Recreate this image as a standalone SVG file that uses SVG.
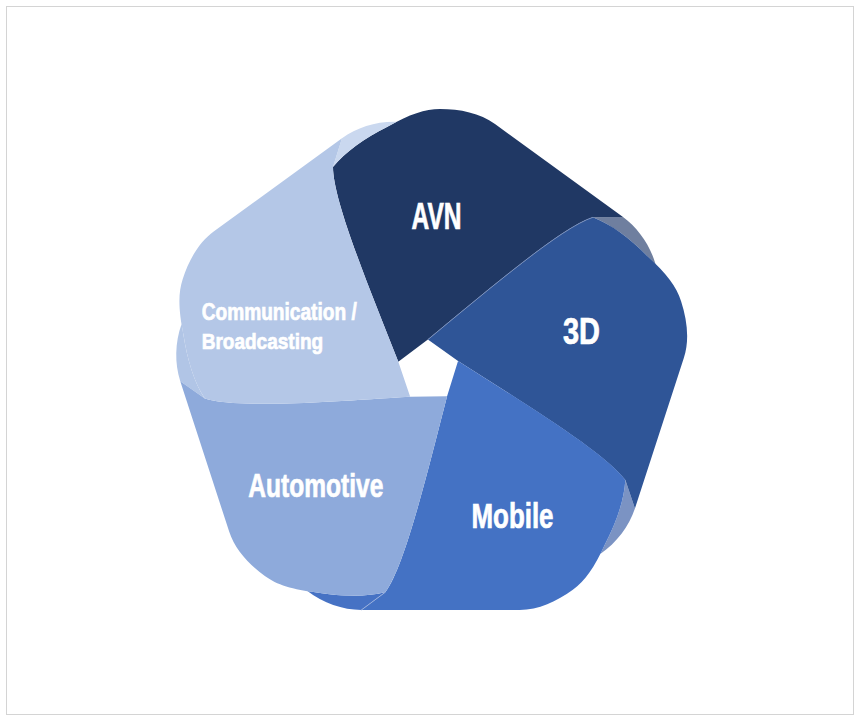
<svg xmlns="http://www.w3.org/2000/svg" xmlns:xlink="http://www.w3.org/1999/xlink" width="860" height="723" viewBox="0 0 860 723">
  <style>
    .label { font-family: "Liberation Sans", Arial, sans-serif; font-weight: bold; fill: #ffffff; stroke: #ffffff; stroke-width: 0.7px; }
    .frame { fill: #ffffff; stroke: #d4d4d4; stroke-width: 1; }
    .seam { fill: none; stroke-width: 0.8; }
  </style>
  <defs>
    <!-- one blade of the pinwheel, drawn in the top position; the others are rotated copies about the hub -->
    <path id="blade" d="M398.3,361.7 C368,285 333,200 333,167 C345,152 365,138 387,127 C410,114 425,109 440,109 C460,109 480,113 495,124 L623,217 L592.9,217.3 C561.5,227.5 491.5,287.1 427.9,339.6 Z"/>
    <!-- the end of a blade that shows past the corner of the next blade -->
    <path id="tail" d="M592.9,217.3 L623,217 C638,228 650,245 655.5,264 L647.6,256.3 C630.3,238.8 610.8,224.1 592.9,217.3 Z"/>
    <!-- leading edge of a blade, from the hub to its outer corner -->
    <path id="edge" d="M398.3,361.7 C368,285 333,200 333,167"/>
    <!-- line where the opaque blade meets its tail -->
    <path id="tailSeam" d="M623,217 L592.9,217.3"/>
  </defs>

  <rect class="frame" x="6.5" y="6.5" width="847" height="708"/>

  <g id="avn">
    <use xlink:href="#tail" fill="#6f7f9f"/>
    <use xlink:href="#blade" fill="#203864"/>
    <text class="label" x="411.5" y="228.5" font-size="36" textLength="50" lengthAdjust="spacingAndGlyphs">AVN</text>
  </g>

  <g id="threeD">
    <use xlink:href="#tail" fill="#7b93c3" transform="rotate(72 428.3 371)"/>
    <use xlink:href="#blade" fill="#2f5597" transform="rotate(72 428.3 371)"/>
    <use xlink:href="#edge" class="seam" stroke="#7f95c0" transform="rotate(72 428.3 371)"/>
    <text class="label" x="563" y="343.5" font-size="37" textLength="37" lengthAdjust="spacingAndGlyphs">3D</text>
  </g>

  <g id="mobile">
    <use xlink:href="#tail" fill="#4672c4" transform="rotate(144 428.3 371)"/>
    <use xlink:href="#blade" fill="#4472c4" transform="rotate(144 428.3 371)"/>
    <use xlink:href="#tailSeam" class="seam" stroke="#9fb4de" transform="rotate(144 428.3 371)"/>
    <text class="label" x="471.5" y="528.3" font-size="35" textLength="82" lengthAdjust="spacingAndGlyphs">Mobile</text>
  </g>

  <g id="automotive">
    <use xlink:href="#tail" fill="#b1c5e6" transform="rotate(216 428.3 371)"/>
    <use xlink:href="#blade" fill="#8eaadb" transform="rotate(216 428.3 371)"/>
    <text class="label" x="248.3" y="496.5" font-size="33" textLength="135" lengthAdjust="spacingAndGlyphs">Automotive</text>
  </g>

  <g id="communication">
    <use xlink:href="#tail" fill="#cad8ef" transform="rotate(288 428.3 371)"/>
    <use xlink:href="#blade" fill="#b4c7e7" transform="rotate(288 428.3 371)"/>
    <text class="label" x="201.7" y="319.5" font-size="23" textLength="155" lengthAdjust="spacingAndGlyphs">Communication /</text>
    <text class="label" x="201.7" y="349" font-size="22.5" textLength="121.5" lengthAdjust="spacingAndGlyphs">Broadcasting</text>
  </g>
</svg>
